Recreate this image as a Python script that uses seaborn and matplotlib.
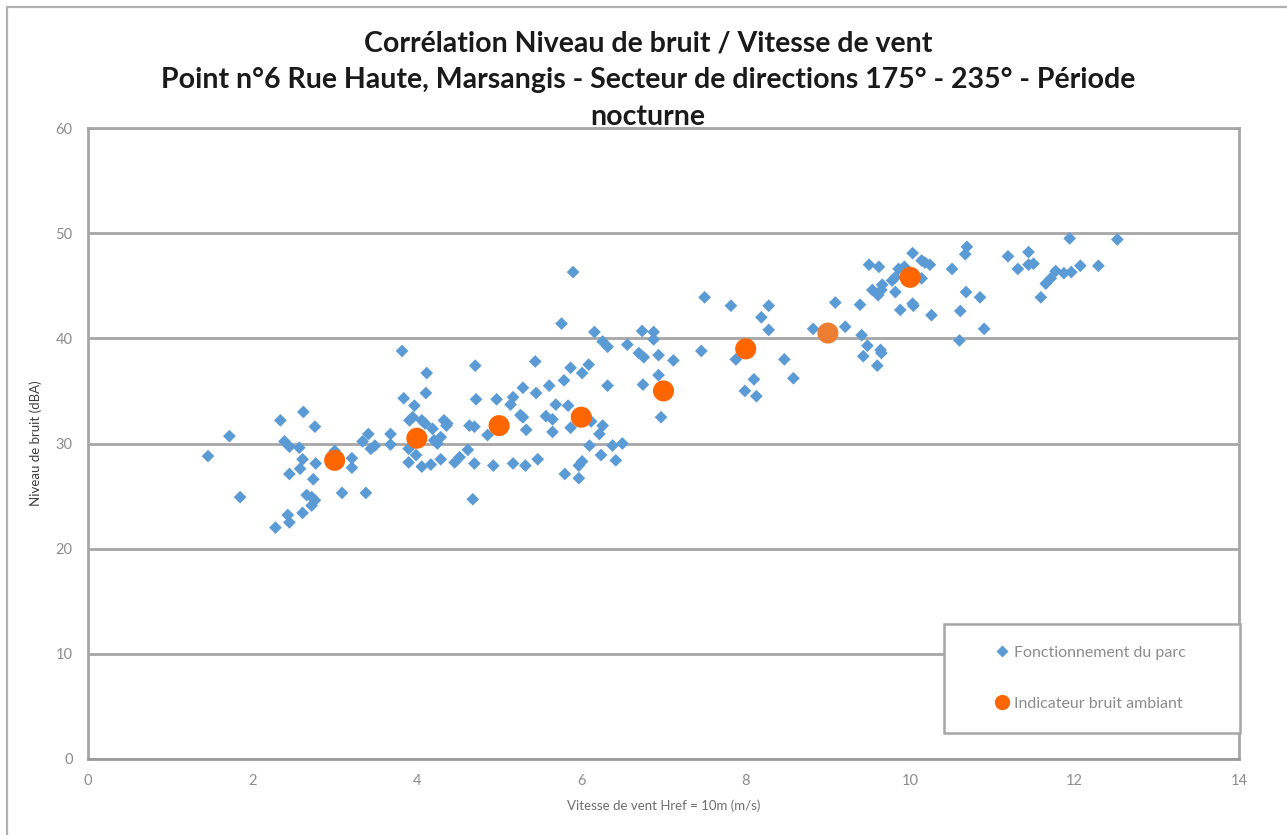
import matplotlib
matplotlib.use("Agg")
import matplotlib.pyplot as plt
import seaborn as sns
import pandas as pd
from matplotlib.patches import Rectangle
from matplotlib.lines import Line2D

# Mesures : vitesse de vent (m/s) et niveau de bruit (dBA), parc en fonctionnement
vent_parc = [
    3.82, 4.12, 4.71, 4.11, 3.84, 3.97, 4.72, 2.62, 2.34, 2.76, 1.72, 1.46, 2.39, 2.45,
    2.57, 2.61, 2.58, 2.45, 2.77, 2.74, 2.66, 2.72, 2.76, 2.72, 1.85, 2.43, 2.45, 2.61,
    2.28, 3.00, 3.21, 3.21, 3.09, 3.38, 3.34, 3.41, 3.44, 3.49, 3.68, 3.68, 3.91, 3.95,
    4.06, 4.10, 4.19, 4.33, 4.36, 4.37, 4.29, 4.25, 4.21, 3.90, 3.99, 3.90, 4.06, 4.17,
    4.29, 4.46, 4.52, 4.62, 4.64, 4.70, 4.70, 4.68,
    5.90, 7.50, 7.82, 5.76, 6.16, 6.74, 6.88, 6.88, 6.26, 6.32, 6.56, 6.70, 6.76, 6.94,
    7.12, 7.46, 5.44, 5.87, 6.09, 6.01, 5.79, 6.94, 6.75, 6.32, 5.29, 5.61, 5.45, 4.97,
    5.17, 5.14, 5.69, 5.84, 5.26, 5.29, 5.57, 5.65, 6.12, 6.26, 6.22, 5.87, 5.65, 5.33,
    4.86, 6.10, 6.38, 6.50, 4.93, 5.17, 5.32, 5.47, 6.24, 6.42, 6.01, 5.97, 5.80, 5.97,
    6.97,
    8.28, 8.19, 8.28, 8.82, 9.21, 9.09, 9.39, 9.41, 9.48, 9.43, 9.64, 9.65, 9.60, 7.88,
    8.47, 8.10, 8.58, 7.99, 8.13, 9.54, 9.66, 9.61, 9.65, 9.78, 9.82, 9.82, 9.88, 10.03,
    10.04, 10.14, 10.26, 10.61, 10.68, 10.60,
    10.03, 9.50, 9.62, 9.86, 9.93, 10.14, 10.18, 10.24, 10.51, 10.69, 10.67, 10.85, 10.90,
    11.19, 11.44, 11.31, 11.44, 11.50, 11.59, 11.65, 11.71, 11.77, 11.87, 11.96, 12.07,
    11.94, 12.29, 12.52,
]
bruit_parc = [
    38.8, 36.7, 37.4, 34.8, 34.3, 33.6, 34.2, 33.0, 32.2, 31.6, 30.7, 28.8, 30.2, 29.7,
    29.6, 28.5, 27.6, 27.1, 28.1, 26.6, 25.1, 24.9, 24.6, 24.1, 24.9, 23.2, 22.5, 23.4,
    22.0, 29.3, 28.6, 27.7, 25.3, 25.3, 30.2, 30.9, 29.5, 29.8, 30.9, 29.9, 32.2, 32.5,
    32.2, 31.9, 31.4, 32.2, 31.7, 31.9, 30.6, 30.0, 30.3, 29.5, 28.9, 28.2, 27.8, 28.0,
    28.5, 28.2, 28.7, 29.4, 31.7, 31.6, 28.1, 24.7,
    46.3, 43.9, 43.1, 41.4, 40.6, 40.7, 40.6, 39.9, 39.7, 39.2, 39.4, 38.6, 38.2, 38.4,
    37.9, 38.8, 37.8, 37.2, 37.5, 36.7, 36.0, 36.5, 35.6, 35.5, 35.3, 35.5, 34.8, 34.2,
    34.4, 33.7, 33.7, 33.6, 32.7, 32.5, 32.6, 32.3, 32.1, 31.7, 30.9, 31.5, 31.1, 31.3,
    30.8, 29.8, 29.8, 30.0, 27.9, 28.1, 27.9, 28.5, 28.9, 28.4, 28.3, 27.9, 27.1, 26.7,
    32.5,
    43.1, 42.0, 40.8, 40.9, 41.1, 43.4, 43.2, 40.3, 39.3, 38.3, 38.9, 38.6, 37.4, 38.0,
    38.0, 36.1, 36.2, 35.0, 34.5, 44.6, 45.1, 44.1, 44.6, 45.5, 45.8, 44.4, 42.7, 43.3,
    43.1, 45.7, 42.2, 42.6, 44.4, 39.8,
    48.1, 47.0, 46.8, 46.6, 46.8, 47.4, 47.2, 47.0, 46.6, 48.7, 48.0, 43.9, 40.9,
    47.8, 48.2, 46.6, 47.0, 47.1, 43.9, 45.2, 45.7, 46.4, 46.2, 46.3, 46.9,
    49.5, 46.9, 49.4,
]

# Indicateur de bruit ambiant par classe de vitesse
vent_classes = [3, 4, 5, 6, 7, 8, 9, 10]
bruit_indicateur = [28.4, 30.5, 31.7, 32.5, 35.0, 39.0, 40.5, 45.8]
couleurs_indicateur = ["#FF6600", "#FF6600", "#FF6600", "#FF6600",
                       "#FF6600", "#FF6600", "#ED7D31", "#FF6600"]

x_ticks = [0, 2, 4, 6, 8, 10, 12, 14]
y_ticks = [0, 10, 20, 30, 40, 50, 60]

titre = ("Corrélation Niveau de bruit / Vitesse de vent\n"
         "Point n°6 Rue Haute, Marsangis - Secteur de directions 175° - 235° - Période\n"
         "nocturne")

sns.set_style("white")
plt.rcParams["font.family"] = ["Lato", "DejaVu Sans"]

BLEU = "#5B9BD5"
GRIS = "#A6A6A6"
TEXTE_GRIS = "#8C8C8C"

W, H = 1287, 835
fig = plt.figure(figsize=(W / 100, H / 100), dpi=100)
ax = fig.add_axes([88 / W, 1 - 759 / H, (1239 - 88) / W, (759 - 128) / H])

# Cadre extérieur du graphique
fig.patches.append(Rectangle((7 / W, -0.01), 1.1, 1 - 7 / H + 0.01,
                             transform=fig.transFigure, fill=False,
                             edgecolor="#B0B0B0", linewidth=1.6, zorder=0))

df_parc = pd.DataFrame({"vent": vent_parc, "bruit": bruit_parc})
df_ind = pd.DataFrame({"vent": vent_classes, "bruit": bruit_indicateur,
                       "couleur": couleurs_indicateur})

sns.scatterplot(data=df_parc, x="vent", y="bruit", marker="D", s=42,
                color=BLEU, edgecolor="none", ax=ax, zorder=3)
sns.scatterplot(data=df_ind, x="vent", y="bruit", marker="o", s=230,
                hue="couleur", palette={c: c for c in set(couleurs_indicateur)},
                edgecolor="none", legend=False, ax=ax, zorder=4)

ax.set_xlim(0, 14)
ax.set_ylim(0, 60)
ax.set_xticks(x_ticks)
ax.set_yticks(y_ticks)
ax.yaxis.grid(True, color=GRIS, linewidth=2.0)
ax.xaxis.grid(False)
ax.set_axisbelow(True)
for side, sp in ax.spines.items():
    sp.set_visible(True)
    sp.set_color(GRIS)
    sp.set_linewidth(2.0)
ax.spines["bottom"].set_color("#9A9A9A")

ax.tick_params(axis="both", which="major", direction="out", length=5, width=1.5,
               color=GRIS, labelcolor=TEXTE_GRIS, labelsize=10.5)
ax.tick_params(axis="x", pad=6)
ax.tick_params(axis="y", pad=6)

ax.set_xlabel("Vitesse de vent Href = 10m (m/s)", fontsize=9.5, color="#6E6E6E",
              labelpad=8)
ax.set_ylabel("Niveau de bruit (dBA)", fontsize=9.5, color="#404040", labelpad=10)

fig.text(648 / W, 1 - 80 / H, titre, ha="center", va="center",
         fontsize=20.5, fontweight="bold", color="#1A1A1A", linespacing=1.52)

# Légende : cadre et entrées
fig.patches.append(Rectangle((944 / W, 1 - 733 / H), (1240 - 944) / W, (733 - 624) / H,
                             transform=fig.transFigure, facecolor="white",
                             edgecolor=GRIS, linewidth=1.8, zorder=5))
handles = [
    Line2D([], [], linestyle="none", marker="D", markersize=6.5,
           markerfacecolor=BLEU, markeredgecolor="none", label="Fonctionnement du parc"),
    Line2D([], [], linestyle="none", marker="o", markersize=11,
           markerfacecolor="#FF6600", markeredgecolor="none", label="Indicateur bruit ambiant"),
]
leg = fig.legend(handles=handles, loc="center left",
                 bbox_to_anchor=(994 / W, 1 - 678 / H),
                 frameon=False, fontsize=11.5, labelspacing=2.3,
                 borderpad=0.0, handletextpad=0.25, handlelength=1.0,
                 borderaxespad=0.0)
leg.set_zorder(6)
for t in leg.get_texts():
    t.set_color(TEXTE_GRIS)

fig.savefig("out.png", dpi=100)
